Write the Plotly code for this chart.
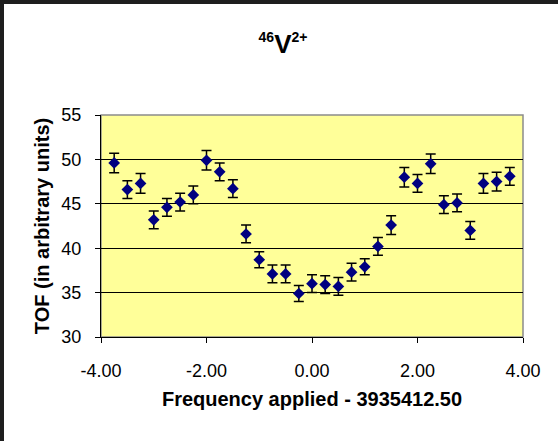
import plotly.graph_objects as go

# Data
freq_offset = [-3.75, -3.5, -3.25, -3.0, -2.75, -2.5, -2.25, -2.0, -1.75, -1.5, -1.25,
               -1.0, -0.75, -0.5, -0.25, 0.0, 0.25, 0.5, 0.75, 1.0, 1.25, 1.5,
               1.75, 2.0, 2.25, 2.5, 2.75, 3.0, 3.25, 3.5, 3.75]
tof = [49.6, 46.6, 47.3, 43.2, 44.6, 45.2, 46.0, 49.9, 48.6, 46.7, 41.6,
       38.7, 37.1, 37.1, 34.9, 36.0, 35.9, 35.7, 37.3, 37.9, 40.2, 42.6,
       48.0, 47.3, 49.5, 44.9, 45.1, 42.0, 47.3, 47.5, 48.1]
tof_err = [1.1, 1.0, 1.1, 1.0, 1.0, 1.0, 1.0, 1.1, 1.0, 1.0, 1.0,
           0.9, 1.0, 1.0, 0.9, 1.0, 1.0, 1.0, 1.0, 0.9, 1.0, 1.05,
           1.1, 1.0, 1.1, 1.0, 1.0, 1.0, 1.1, 1.05, 1.0]

x_ticks = [-4, -2, 0, 2, 4]
x_tick_labels = ["-4.00", "-2.00", "0.00", "2.00", "4.00"]
y_ticks = [30, 35, 40, 45, 50, 55]

W, H = 558, 441
L, R, T, B = 101, 523, 115, 337

FONT = "Liberation Sans, Arial, sans-serif"

fig = go.Figure()
fig.add_trace(go.Scatter(
    x=freq_offset, y=tof, mode="markers",
    marker=dict(symbol="diamond", size=9, color="#000080"),
    error_y=dict(type="data", array=tof_err, visible=True,
                 color="black", thickness=1.5, width=5),
    showlegend=False,
))

def px_to_paper_x(px):
    return (px - L) / (R - L)

def px_to_paper_y(py):
    return (B - py) / (B - T)

shapes = [
    # gray plot-area frame
    dict(type="rect", xref="paper", yref="paper", x0=0, x1=1, y0=0, y1=1,
         line=dict(color="#8c8c8c", width=1.5), fillcolor="rgba(0,0,0,0)", layer="below"),
    # white cover on the right edge
    dict(type="rect", xref="paper", yref="paper",
         x0=px_to_paper_x(545), x1=px_to_paper_x(W + 2),
         y0=px_to_paper_y(H + 2), y1=px_to_paper_y(4),
         line=dict(width=0), fillcolor="white", layer="above"),
    # dark outer border strips (left and top)
    dict(type="rect", xref="paper", yref="paper",
         x0=px_to_paper_x(0), x1=px_to_paper_x(4),
         y0=px_to_paper_y(H), y1=px_to_paper_y(0),
         line=dict(width=0), fillcolor="#1e1e1e", layer="above"),
    dict(type="rect", xref="paper", yref="paper",
         x0=px_to_paper_x(0), x1=px_to_paper_x(W),
         y0=px_to_paper_y(4), y1=px_to_paper_y(0),
         line=dict(width=0), fillcolor="#1e1e1e", layer="above"),
]

fig.update_layout(
    width=W, height=H,
    margin=dict(l=L, r=W - R, t=T, b=H - B),
    paper_bgcolor="white",
    plot_bgcolor="#FFFF99",
    font=dict(family=FONT, color="black"),
    title=dict(
        text="<b><sup><span style='font-size:14px'>46</span></sup>V<sup><span style='font-size:14px'>2+</span></sup></b>",
        font=dict(family=FONT, size=26, color="black"),
        x=283 / W, xanchor="center", xref="container",
        y=1 - 35 / H, yanchor="top", yref="container",
    ),
    xaxis=dict(
        range=[-4, 4], tickvals=x_ticks, ticktext=x_tick_labels,
        showgrid=False, zeroline=False,
        showline=True, linecolor="black", linewidth=1,
        ticks="outside", ticklen=5, tickcolor="black",
        ticklabelstandoff=12,
        tickfont=dict(family=FONT, size=18),
        title=dict(text="<b>Frequency applied - 3935412.50</b>",
                   font=dict(family=FONT, size=20), standoff=12),
    ),
    yaxis=dict(
        range=[30, 55], tickvals=y_ticks,
        showgrid=True, gridcolor="black", gridwidth=1,
        zeroline=False,
        showline=True, linecolor="black", linewidth=1,
        ticks="outside", ticklen=5, tickcolor="black",
        ticklabelstandoff=10,
        tickfont=dict(family=FONT, size=18),
        title=dict(text="<b>TOF (in arbitrary units)</b>",
                   font=dict(family=FONT, size=20), standoff=6),
    ),
    shapes=shapes,
)

html = fig.to_html(include_plotlyjs=True, full_html=True, config={"displayModeBar": False})
html = html.replace("<head>", "<head><style>html,body{margin:0;padding:0;overflow:hidden;background:white;}</style>", 1)
with open("out.html", "w", encoding="utf-8") as f:
    f.write(html)
